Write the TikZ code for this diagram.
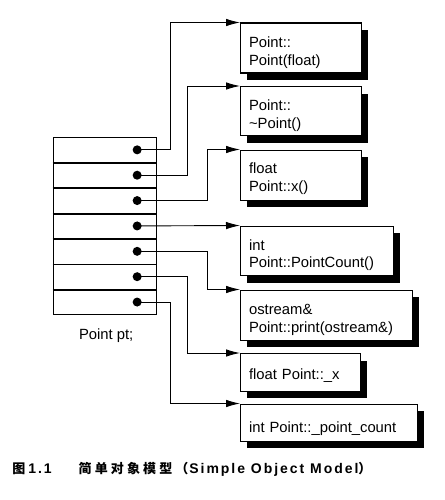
\documentclass[tikz,border=0pt]{standalone}
\usepackage{fontspec}
\setmainfont{Liberation Sans}
\newfontfamily\cjkcap{Noto Sans CJK SC}[LetterSpace=24]
\newfontfamily\cjkfig{Noto Sans CJK SC}
\newfontfamily\capfont{Liberation Sans}[LetterSpace=14]
\usetikzlibrary{arrows.meta,shadows}
\begin{document}
\begin{tikzpicture}[x=1pt,y=-1pt,
  every node/.style={font=\fontsize{14.8}{17.8}\selectfont},
  cell/.style={draw,line width=0.9pt,minimum width=103pt,minimum height=25.37pt,inner sep=0pt,anchor=north west},
  dotnode/.style={circle,fill=black,inner sep=0pt,minimum size=9pt},
  conn/.style={line width=0.9pt,-{Latex[length=14pt,width=7.5pt]}},
  sep/.style={line width=1.7pt},
  fbox/.style={draw,line width=1.1pt,fill=white,anchor=north west,inner xsep=8.5pt,inner ysep=0pt,align=left,
    drop shadow={shadow xshift=6.5pt,shadow yshift=-7pt,opacity=1,fill=black}},
  capnode/.style={anchor=base west,inner sep=0pt}
]
\fill[white] (0,0) rectangle (444,500);
\useasboundingbox (0,0) rectangle (444,500);

% object table
\foreach \i in {1,...,7}{
  \node[cell] (r\i) at (52.7,{136.7+(\i-1)*25.37}) {};
}
\foreach \i in {1,...,6}{
  \draw[sep] (r\i.south west) -- (r\i.south east);
}
\foreach \i in {1,...,7}{
  \node[dotnode] (d\i) at ([xshift=32.5pt]r\i.center) {};
}
\node[anchor=base] (pt) at ([xshift=1.5pt,yshift=-24pt]r7.south) {Point pt;};

% member boxes
\node[fbox,text width=104pt,text height=24.3pt,text depth=25.7pt] (b1) at (240,22.5) {Point::\\Point(float)};
\node[fbox,text width=104pt,text height=24pt,text depth=25pt] (b2) at (240,86) {Point::\\\textasciitilde Point()};
\node[fbox,text width=104pt,text height=23.8pt,text depth=26.2pt] (b3) at (240,149.5) {float\\Point::x()};
\node[fbox,text width=135.7pt,text height=24pt,text depth=25.5pt] (b4) at (240,225.5) {int\\Point::PointCount()};
\node[fbox,text width=154.7pt,text height=24.3pt,text depth=25.7pt] (b5) at (240,289.5) {ostream\&\\Point::print(ostream\&)};
\node[fbox,text width=103pt,text height=26.3pt,text depth=11.4pt] (b6) at (240,353) {float Point::\_x};
\node[fbox,text width=159.7pt,text height=28pt,text depth=9.2pt] (b7) at (240,403.5) {int Point::\_point\_count};

% routing columns
\coordinate (k1) at (170,0);
\coordinate (k2) at (187.5,0);
\coordinate (k3) at (207,0);

\draw[conn] (d1.center) -- (d1.center -| k1) |- (b1.north west);
\draw[conn] (d2.center) -- (d2.center -| k2) |- (b2.north west);
\draw[conn] (d3.center) -- (d3.center -| k3) |- (b3.north west);
\draw[conn] (d4.center) -- (b4.north west);
\draw[conn] (d5.center) -- (d5.center -| k3) |- (b5.north west);
\draw[conn] (d6.center) -- (d6.center -| k2) |- (b6.north west);
\draw[conn] (d7.center) -- (d7.center -| k1) |- (b7.north west);

% caption
\node[capnode] (cap1) at (12.2,473.5) {\cjkfig\bfseries\fontsize{13}{14}\selectfont 图\hspace{3pt}\capfont\bfseries\fontsize{14}{14}\selectfont 1.1};
\node[capnode] (cap2) at (78.5,473.5) {\cjkcap\bfseries\fontsize{13}{14}\selectfont 简单对象模型（\hspace{1pt}\capfont\bfseries\fontsize{14}{14}\selectfont Simple Object Model\cjkcap\bfseries\fontsize{13}{14}\selectfont ）};
\end{tikzpicture}
\end{document}
